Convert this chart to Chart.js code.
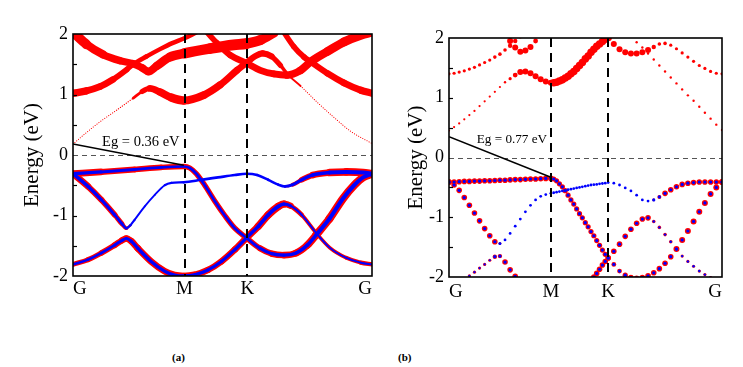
<!DOCTYPE html>
<html><head><meta charset="utf-8">
<script src="https://cdn.jsdelivr.net/npm/chart.js@4.4.0/dist/chart.umd.min.js"></script>
<style>
html,body{margin:0;padding:0;background:#fff;width:743px;height:367px;overflow:hidden;}
#wrapA{position:absolute;left:0;top:0;width:380px;height:300px;}
#wrapB{position:absolute;left:375px;top:0;width:368px;height:300px;}
.cap{position:absolute;font-family:'Liberation Serif',serif;font-weight:bold;font-size:11px;top:351px;color:#000;}
</style></head><body>
<div id="wrapA"><canvas id="cA" width="380" height="300"></canvas></div>
<div id="wrapB"><canvas id="cB" width="368" height="300"></canvas></div>
<div class="cap" style="left:172px">(a)</div>
<div class="cap" style="left:398px">(b)</div>
<script>
// ---------- shared axis data ----------
const kLabels = ['G', 'M', 'K', 'G'];
const kTicks = [0, 1.0, 1.5625, 2.68];
const energyTicks = [-2, -1, 0, 1, 2];
const minorE = [-1.5, -1, -0.5, 0.5, 1, 1.5];

// ---------- panel (a): bands (k, energy, red weight, blue weight) ----------
const a1_k = [0, 0.25, 0.55, 0.79, 0.993, 1.047, 1.106, 1.181, 1.27, 1.36, 1.45, 1.555, 1.674, 1.78, 1.89, 2.0, 2.1, 2.18, 2.3, 2.42, 2.52, 2.6, 2.68];
const a1_E = [-0.31, -0.28, -0.24, -0.205, -0.19, -0.215, -0.31, -0.5, -0.76, -1.0, -1.21, -1.37, -1.54, -1.63, -1.655, -1.62, -1.49, -1.32, -1.05, -0.72, -0.5, -0.37, -0.31];
const a1_wr = [0.8, 0.7, 0.65, 0.6, 0.6, 0.6, 0.6, 0.6, 0.6, 0.6, 0.6, 0.6, 0.65, 0.7, 0.7, 0.75, 0.8, 0.85, 0.9, 0.9, 0.9, 0.9, 0.9];
const a1_wb = [0.4, 0.35, 0.33, 0.3, 0.3, 0.3, 0.3, 0.3, 0.3, 0.3, 0.3, 0.3, 0.33, 0.35, 0.35, 0.38, 0.4, 0.42, 0.45, 0.45, 0.45, 0.45, 0.45];

const a2_k = [0, 0.135, 0.254, 0.374, 0.44, 0.478, 0.515, 0.553, 0.643, 0.733, 0.822, 0.882, 0.993, 1.15, 1.30, 1.45, 1.555, 1.65, 1.75, 1.84, 1.90, 1.97, 2.05, 2.15, 2.30, 2.45, 2.60, 2.68];
const a2_E = [-0.31, -0.52, -0.74, -0.99, -1.14, -1.21, -1.16, -1.07, -0.85, -0.66, -0.50, -0.46, -0.45, -0.41, -0.37, -0.33, -0.31, -0.33, -0.41, -0.49, -0.52, -0.49, -0.41, -0.33, -0.29, -0.28, -0.29, -0.31];
const a2_wr = [0.75, 0.7, 0.65, 0.6, 0.5, 0.35, 0.15, 0.05, 0, 0, 0, 0, 0, 0, 0, 0, 0, 0, 0, 0.05, 0.15, 0.35, 0.55, 0.7, 0.8, 0.85, 0.85, 0.85];
const a2_wb = [0.4, 0.38, 0.36, 0.34, 0.3, 0.28, 0.25, 0.22, 0.2, 0.2, 0.22, 0.25, 0.28, 0.3, 0.3, 0.3, 0.3, 0.3, 0.28, 0.28, 0.3, 0.32, 0.35, 0.4, 0.42, 0.45, 0.45, 0.45];

const a3_k = [0, 0.135, 0.254, 0.374, 0.44, 0.478, 0.52, 0.58, 0.70, 0.82, 0.91, 0.993, 1.09, 1.21, 1.33, 1.45, 1.555, 1.66, 1.75, 1.84, 1.89, 1.95, 2.05, 2.18, 2.30, 2.45, 2.58, 2.68];
const a3_E = [-1.81, -1.73, -1.62, -1.49, -1.41, -1.38, -1.42, -1.54, -1.76, -1.92, -1.985, -2.0, -1.98, -1.90, -1.76, -1.565, -1.37, -1.18, -0.99, -0.85, -0.81, -0.84, -0.99, -1.29, -1.53, -1.70, -1.78, -1.81];
const a3_wr = [0.55, 0.55, 0.6, 0.65, 0.7, 0.7, 0.72, 0.75, 0.75, 0.75, 0.75, 0.75, 0.72, 0.7, 0.7, 0.72, 0.75, 0.8, 0.85, 0.85, 0.8, 0.6, 0.45, 0.4, 0.4, 0.4, 0.45, 0.5];
const a3_wb = [0.28, 0.28, 0.3, 0.32, 0.35, 0.35, 0.36, 0.37, 0.37, 0.37, 0.37, 0.37, 0.36, 0.35, 0.35, 0.36, 0.37, 0.4, 0.42, 0.42, 0.4, 0.3, 0.22, 0.2, 0.2, 0.2, 0.22, 0.25];

const a4_k = [0, 0.12, 0.243, 0.39, 0.54, 0.62, 0.69, 0.78, 0.88, 0.993, 1.172, 1.32, 1.47, 1.553, 1.63, 1.70, 1.78, 1.86, 1.93, 2.04, 2.19, 2.34, 2.49, 2.68];
const a4_E = [0.18, 0.37, 0.55, 0.74, 0.94, 1.05, 1.10, 1.04, 0.95, 0.90, 0.99, 1.16, 1.40, 1.52, 1.63, 1.68, 1.63, 1.48, 1.32, 1.14, 0.87, 0.62, 0.39, 0.19];
const a4_wr = [0.12, 0.12, 0.12, 0.12, 0.16, 0.45, 0.7, 0.8, 0.9, 0.95, 0.85, 0.8, 0.75, 0.7, 0.7, 0.7, 0.65, 0.5, 0.28, 0.12, 0.12, 0.12, 0.12, 0.12];

const a5_k = [1.20, 1.29, 1.41, 1.553, 1.68, 1.80, 1.92, 2.04, 2.13, 2.28, 2.43, 2.58, 2.68];
const a5_E = [2.03, 1.85, 1.65, 1.52, 1.40, 1.34, 1.32, 1.40, 1.54, 1.71, 1.87, 1.98, 2.03];
const a5_wr = [0.6, 0.65, 0.7, 0.75, 0.75, 0.75, 0.8, 0.85, 0.9, 0.95, 1.0, 1.0, 1.0];

const a6_k = [0, 0.12, 0.27, 0.42, 0.54, 0.62, 0.677, 0.75, 0.87, 0.998, 1.23, 1.44, 1.553, 1.68, 1.80];
const a6_E = [2.03, 1.83, 1.66, 1.56, 1.51, 1.44, 1.38, 1.47, 1.62, 1.68, 1.76, 1.82, 1.84, 1.90, 2.02];
const a6_wr = [1.15, 1.0, 0.85, 0.8, 0.8, 0.85, 0.85, 0.9, 1.0, 1.1, 1.2, 1.2, 1.2, 1.1, 1.0];

const a7_k = [0, 0.12, 0.24, 0.36, 0.48, 0.54, 0.66, 0.78, 0.89, 0.998, 1.10];
const a7_E = [1.02, 1.06, 1.13, 1.25, 1.41, 1.50, 1.63, 1.75, 1.85, 1.93, 2.02];
const a7_wr = [0.85, 0.8, 0.75, 0.7, 0.6, 0.55, 0.5, 0.5, 0.5, 0.5, 0.5];

const a8_k = [1.89, 1.98, 2.07, 2.13, 2.28, 2.43, 2.58, 2.68];
const a8_E = [2.03, 1.79, 1.62, 1.54, 1.35, 1.19, 1.07, 1.02];
const a8_wr = [0.6, 0.6, 0.65, 0.65, 0.7, 0.75, 0.8, 0.8];

const egA_k = [0, 0.993];
const egA_E = [0.18, -0.17];

// ---------- panel (b): k grid (20 steps per segment) ----------
const b_k = [0, 0.05, 0.1, 0.15, 0.2, 0.25, 0.3, 0.35, 0.4, 0.45, 0.5, 0.55, 0.6, 0.65, 0.7, 0.75, 0.8, 0.85, 0.9, 0.95, 1.0,
  1.028, 1.056, 1.084, 1.113, 1.141, 1.169, 1.197, 1.225, 1.253, 1.281, 1.309, 1.338, 1.366, 1.394, 1.422, 1.45, 1.478, 1.506, 1.534, 1.5625,
  1.618, 1.674, 1.730, 1.786, 1.842, 1.898, 1.954, 2.010, 2.065, 2.121, 2.177, 2.233, 2.289, 2.345, 2.401, 2.457, 2.512, 2.568, 2.624, 2.68];

const b_v1_E = [-0.41, -0.41, -0.405, -0.40, -0.40, -0.395, -0.395, -0.39, -0.39, -0.385, -0.38, -0.38, -0.375, -0.37, -0.37, -0.365, -0.36, -0.36, -0.355, -0.35, -0.35,
  -0.36, -0.39, -0.44, -0.49, -0.555, -0.63, -0.71, -0.78, -0.86, -0.94, -1.01, -1.09, -1.16, -1.24, -1.31, -1.39, -1.47, -1.55, -1.62, -1.68,
  -1.79, -1.90, -1.97, -2.01, -2.02, -2.01, -1.98, -1.93, -1.86, -1.77, -1.66, -1.53, -1.38, -1.23, -1.07, -0.91, -0.76, -0.61, -0.50, -0.41];
const b_v1_wr = [0.7, 0.7, 0.7, 0.7, 0.7, 0.7, 0.7, 0.7, 0.7, 0.7, 0.7, 0.7, 0.7, 0.7, 0.7, 0.7, 0.7, 0.7, 0.7, 0.7, 0.7,
  0.65, 0.65, 0.65, 0.65, 0.65, 0.65, 0.65, 0.65, 0.65, 0.65, 0.65, 0.65, 0.65, 0.65, 0.65, 0.65, 0.65, 0.65, 0.65, 0.65,
  0.6, 0.6, 0.65, 0.7, 0.7, 0.7, 0.7, 0.7, 0.7, 0.7, 0.7, 0.75, 0.75, 0.75, 0.75, 0.75, 0.75, 0.75, 0.75, 0.75];
const b_v1_wb = [0.8, 0.8, 0.8, 0.8, 0.8, 0.8, 0.8, 0.8, 0.8, 0.8, 0.8, 0.8, 0.8, 0.8, 0.8, 0.8, 0.8, 0.8, 0.8, 0.8, 0.8,
  0.8, 0.8, 0.8, 0.8, 0.8, 0.8, 0.8, 0.8, 0.8, 0.8, 0.8, 0.8, 0.8, 0.8, 0.8, 0.8, 0.8, 0.8, 0.8, 0.8,
  0.8, 0.8, 0.8, 0.8, 0.8, 0.8, 0.8, 0.8, 0.8, 0.8, 0.8, 0.8, 0.8, 0.8, 0.8, 0.8, 0.8, 0.8, 0.8, 0.8];

const b_v2_E = [-0.41, -0.46, -0.55, -0.67, -0.80, -0.93, -1.06, -1.19, -1.31, -1.41, -1.44, -1.38, -1.27, -1.15, -1.03, -0.91, -0.80, -0.71, -0.65, -0.62, -0.60,
  -0.59, -0.58, -0.57, -0.56, -0.55, -0.54, -0.53, -0.52, -0.51, -0.50, -0.49, -0.48, -0.47, -0.46, -0.455, -0.45, -0.44, -0.435, -0.43, -0.42,
  -0.43, -0.46, -0.51, -0.56, -0.63, -0.71, -0.73, -0.71, -0.66, -0.60, -0.54, -0.49, -0.45, -0.43, -0.42, -0.41, -0.41, -0.41, -0.41, -0.41];
const b_v2_wr = [0.7, 0.7, 0.7, 0.7, 0.7, 0.7, 0.7, 0.7, 0.7, 0.7, 0.35, 0, 0, 0, 0, 0, 0, 0, 0, 0, 0,
  0, 0, 0, 0, 0, 0, 0, 0, 0, 0, 0, 0, 0, 0, 0, 0, 0, 0, 0, 0,
  0, 0, 0, 0, 0, 0, 0, 0.35, 0.5, 0.7, 0.7, 0.7, 0.7, 0.7, 0.7, 0.7, 0.7, 0.7, 0.7, 0.7];
const b_v2_wb = [0.8, 0.8, 0.8, 0.8, 0.8, 0.8, 0.8, 0.8, 0.8, 0.8, 0.75, 0.7, 0.7, 0.7, 0.7, 0.7, 0.7, 0.7, 0.7, 0.7, 0.7,
  0.7, 0.7, 0.7, 0.7, 0.7, 0.7, 0.7, 0.7, 0.7, 0.7, 0.7, 0.7, 0.7, 0.7, 0.7, 0.7, 0.7, 0.7, 0.7, 0.7,
  0.7, 0.7, 0.7, 0.7, 0.7, 0.7, 0.7, 0.8, 0.8, 0.8, 0.8, 0.8, 0.8, 0.8, 0.8, 0.8, 0.8, 0.8, 0.8, 0.8];

const b_v3_E = [null, null, null, -2.03, -1.98, -1.92, -1.85, -1.79, -1.72, -1.66, -1.65, -1.75, -1.88, -1.99, null, null, null, null, null, null, null,
  null, null, null, null, null, null, null, null, null, null, null, null, null, null, -2.0, -1.94, -1.87, -1.80, -1.74, -1.68,
  -1.57, -1.45, -1.32, -1.20, -1.10, -1.03, -1.01, -1.07, -1.17, -1.29, -1.41, -1.54, -1.65, -1.74, -1.82, -1.90, -1.96, -2.01, null, null];
const b_v3_wr = [0, 0, 0, 0.4, 0.4, 0.4, 0.4, 0.4, 0.4, 0.55, 0.55, 0.7, 0.7, 0.7, 0, 0, 0, 0, 0, 0, 0,
  0, 0, 0, 0, 0, 0, 0, 0, 0, 0, 0, 0, 0, 0, 0.7, 0.7, 0.7, 0.7, 0.7, 0.7,
  0.7, 0.7, 0.7, 0.7, 0.7, 0.7, 0.7, 0.45, 0.45, 0.45, 0.45, 0.45, 0.4, 0.4, 0.4, 0.4, 0.4, 0.4, 0.4, 0.4];
const b_v3_wb = [0, 0, 0, 0.55, 0.55, 0.55, 0.55, 0.55, 0.55, 0.8, 0.8, 0.8, 0.8, 0.8, 0, 0, 0, 0, 0, 0, 0,
  0, 0, 0, 0, 0, 0, 0, 0, 0, 0, 0, 0, 0, 0, 0.8, 0.8, 0.8, 0.8, 0.8, 0.8,
  0.8, 0.8, 0.8, 0.8, 0.8, 0.8, 0.8, 0.6, 0.6, 0.6, 0.6, 0.6, 0.6, 0.6, 0.6, 0.6, 0.6, 0.6, 0.6, 0.6];

const b_c1_E = [0.45, 0.51, 0.57, 0.64, 0.71, 0.78, 0.86, 0.94, 1.02, 1.10, 1.18, 1.26, 1.32, 1.38, 1.43, 1.44, 1.41, 1.36, 1.31, 1.27, 1.25,
  1.25, 1.26, 1.28, 1.30, 1.33, 1.36, 1.40, 1.44, 1.49, 1.54, 1.59, 1.65, 1.70, 1.76, 1.81, 1.86, 1.90, 1.94, 1.98, 2.01,
  1.90, 1.81, 1.76, 1.74, 1.74, 1.76, 1.80, 1.85, 1.90, 1.91, 1.88, 1.82, 1.75, 1.68, 1.61, 1.54, 1.49, 1.44, 1.41, 1.40];
const b_c1_wr = [0.28, 0.28, 0.28, 0.28, 0.28, 0.28, 0.28, 0.28, 0.28, 0.28, 0.28, 0.3, 0.4, 0.6, 0.75, 0.75, 0.75, 0.75, 0.75, 0.75, 0.75,
  0.95, 0.95, 0.95, 0.95, 0.95, 0.95, 0.95, 0.95, 0.95, 0.95, 0.95, 0.95, 0.95, 0.95, 0.95, 0.95, 0.95, 0.95, 0.95, 0.95,
  0.75, 0.75, 0.75, 0.75, 0.75, 0.75, 0.75, 0.55, 0.45, 0.45, 0.4, 0.4, 0.4, 0.4, 0.4, 0.4, 0.4, 0.4, 0.4, 0.4];

const b_c2_from = 0;
const b_c2_E = [1.40, 1.41, 1.43, 1.45, 1.48, 1.51, 1.55, 1.59, 1.63, 1.68, 1.73, 1.80, 1.87, 1.95, 2.03];
const b_c2_wr = [0.4, 0.4, 0.4, 0.4, 0.4, 0.4, 0.4, 0.4, 0.4, 0.45, 0.45, 0.45, 0.55, 0.55, 0.55];

const b_c3_from = 11;
const b_c3_E = [2.04, 1.95, 1.84, 1.77, 1.79, 1.85, 1.95, 2.05];
const b_c3_wr = [0.6, 0.75, 0.75, 0.75, 0.75, 0.75, 0.6, 0.6];

const b_c4_from = 44;
const b_c4_E = [2.03, 1.93, 1.84, 1.74, 1.64, 1.54, 1.44, 1.34, 1.24, 1.14, 1.04, 0.95, 0.85, 0.75, 0.65, 0.55, 0.46];
const b_c4_wr = [0.3, 0.3, 0.3, 0.3, 0.3, 0.3, 0.3, 0.3, 0.3, 0.3, 0.3, 0.3, 0.3, 0.3, 0.3, 0.3, 0.3];

const egB_k = [0, 1.0];
const egB_E = [0.35, -0.33];

// ---------- styling ----------
const RED = '#ff0000', BLUE = '#0000ff', SERIF = "'Liberation Serif', 'Times New Roman', serif";
const A_LINE = 9;      // px of line width per unit weight (panel a)
const B_RED = 4.0;     // px of dot radius per unit weight (panel b)
const B_BLUE = 2.0;

function lineBand(k, E, w, color, order) {
  const data = k.map((x, i) => ({x: x, y: E[i]}));
  const avg = c => (w[c.p0DataIndex] + w[c.p1DataIndex]) / 2;
  return {
    type: 'line', data: data, order: order, parsing: false,
    borderColor: color, borderWidth: 1, pointRadius: 0, pointHoverRadius: 0,
    cubicInterpolationMode: 'monotone', borderCapStyle: 'round', borderJoinStyle: 'round',
    fill: false, clip: 0,
    segment: {
      borderWidth: c => Math.max(avg(c) * A_LINE, 0.01),
      borderColor: c => avg(c) > 0.001 ? color : 'rgba(0,0,0,0)',
      borderDash: c => (avg(c) > 0.001 && avg(c) < 0.2) ? [0.1, 2.3] : []
    }
  };
}
function dotBand(E, w, from, color, rmax, order) {
  const data = [], radii = [];
  E.forEach((e, i) => {
    if (e !== null && w[i] > 0) { data.push({x: b_k[from + i], y: e}); radii.push(w[i] * rmax); }
  });
  return {
    type: 'line', data: data, order: order, parsing: false, showLine: false,
    pointRadius: radii, pointHoverRadius: radii, pointBackgroundColor: color,
    pointBorderWidth: 0, borderWidth: 0, clip: 0
  };
}
function egLine(k, E) {
  return {type: 'line', data: k.map((x, i) => ({x: x, y: E[i]})), parsing: false, order: 0,
    borderColor: '#000', borderWidth: 1.5, pointRadius: 0, tension: 0, clip: 0};
}

const panelPlugin = {
  id: 'panel',
  beforeDatasetsDraw(chart, args, o) {
    const {ctx, chartArea: a, scales: {y}} = chart;
    const y0 = Math.round(y.getPixelForValue(0)) + 0.5;
    ctx.save();
    ctx.strokeStyle = '#555'; ctx.lineWidth = 1.1; ctx.setLineDash([5, 4]);
    ctx.beginPath(); ctx.moveTo(a.left, y0); ctx.lineTo(a.right, y0); ctx.stroke();
    ctx.restore();
  },
  afterDatasetsDraw(chart, args, o) {
    const {ctx, chartArea: a, scales: {x, y}} = chart;
    ctx.save();
    ctx.strokeStyle = '#000'; ctx.lineWidth = 2; ctx.setLineDash([9, 6]);
    [kTicks[1], kTicks[2]].forEach(k => {
      const px = Math.round(x.getPixelForValue(k));
      ctx.beginPath(); ctx.moveTo(px, a.top); ctx.lineTo(px, a.bottom); ctx.stroke();
    });
    ctx.setLineDash([]);
    ctx.fillStyle = '#000';
    ctx.font = o.egSize + 'px ' + SERIF;
    ctx.textAlign = 'left'; ctx.textBaseline = 'alphabetic';
    ctx.fillText(o.egText, x.getPixelForValue(o.egK), y.getPixelForValue(o.egE));
    ctx.lineWidth = 1.6;
    ctx.strokeRect(a.left, a.top, a.right - a.left, a.bottom - a.top);
    ctx.lineWidth = 1.2;
    minorE.forEach(e => {
      const py = Math.round(y.getPixelForValue(e)) + 0.5;
      ctx.beginPath(); ctx.moveTo(a.left, py); ctx.lineTo(a.left + 4, py); ctx.stroke();
    });
    ctx.restore();
  }
};

function makeChart(id, datasets, o) {
  return new Chart(document.getElementById(id), {
    type: 'line',
    data: {datasets: datasets},
    options: {
      responsive: false, animation: false, events: [], devicePixelRatio: 1,
      layout: {padding: o.pad},
      plugins: {legend: {display: false}, tooltip: {enabled: false}, panel: o.panel},
      scales: {
        x: {
          type: 'linear', min: 0, max: 2.68,
          grid: {display: false, drawTicks: false}, border: {display: false},
          afterBuildTicks: s => { s.ticks = kTicks.map(v => ({value: v})); },
          afterFit: s => { s.height = o.xh; },
          ticks: {autoSkip: false, maxRotation: 0, minRotation: 0, align: 'inner', padding: o.xpad,
            color: '#000', font: {family: SERIF, size: 19}, callback: (v, i) => kLabels[i]}
        },
        y: {
          type: 'linear', min: -2, max: 2,
          grid: {display: false, drawTicks: false}, border: {display: false},
          afterBuildTicks: s => { s.ticks = energyTicks.map(v => ({value: v})); },
          afterFit: s => { s.width = o.yw; },
          ticks: {padding: 5, color: '#000', font: {family: SERIF, size: 18}, callback: v => String(v)},
          title: {display: true, text: 'Energy (eV)', color: '#000', font: {family: SERIF, size: 21}, padding: {top: 4, bottom: 0}}
        }
      }
    },
    plugins: [panelPlugin]
  });
}

// panel (a)
const dsA = [
  lineBand(a4_k, a4_E, a4_wr, RED, 3),
  lineBand(a5_k, a5_E, a5_wr, RED, 3),
  lineBand(a6_k, a6_E, a6_wr, RED, 3),
  lineBand(a7_k, a7_E, a7_wr, RED, 3),
  lineBand(a8_k, a8_E, a8_wr, RED, 3),
  lineBand(a3_k, a3_E, a3_wr, RED, 3),
  lineBand(a2_k, a2_E, a2_wr, RED, 3),
  lineBand(a1_k, a1_E, a1_wr, RED, 3),
  lineBand(a3_k, a3_E, a3_wb, BLUE, 2),
  lineBand(a2_k, a2_E, a2_wb, BLUE, 2),
  lineBand(a1_k, a1_E, a1_wb, BLUE, 2),
  egLine(egA_k, egA_E)
];
makeChart('cA', dsA, {
  pad: {left: 16, top: 34, right: 8, bottom: 0}, yw: 57, xh: 24, xpad: 2,
  panel: {egText: 'Eg = 0.36 eV', egK: 0.261, egE: 0.149, egSize: 14.5}
});

// panel (b)
const dsB = [
  dotBand(b_c1_E, b_c1_wr, 0, RED, B_RED, 3),
  dotBand(b_c2_E, b_c2_wr, b_c2_from, RED, B_RED, 3),
  dotBand(b_c3_E, b_c3_wr, b_c3_from, RED, B_RED, 3),
  dotBand(b_c4_E, b_c4_wr, b_c4_from, RED, B_RED, 3),
  dotBand(b_v1_E, b_v1_wr, 0, RED, B_RED, 3),
  dotBand(b_v2_E, b_v2_wr, 0, RED, B_RED, 3),
  dotBand(b_v3_E, b_v3_wr, 0, RED, B_RED, 3),
  dotBand(b_v1_E, b_v1_wb, 0, BLUE, B_BLUE, 2),
  dotBand(b_v2_E, b_v2_wb, 0, BLUE, B_BLUE, 2),
  dotBand(b_v3_E, b_v3_wb, 0, BLUE, B_BLUE, 2),
  egLine(egB_k, egB_E)
];
makeChart('cB', dsB, {
  pad: {left: 25, top: 38, right: 21, bottom: 0}, yw: 49, xh: 23, xpad: 4,
  panel: {egText: 'Eg = 0.77 eV', egK: 0.272, egE: 0.248, egSize: 13.2}
});
</script>
</body></html>
